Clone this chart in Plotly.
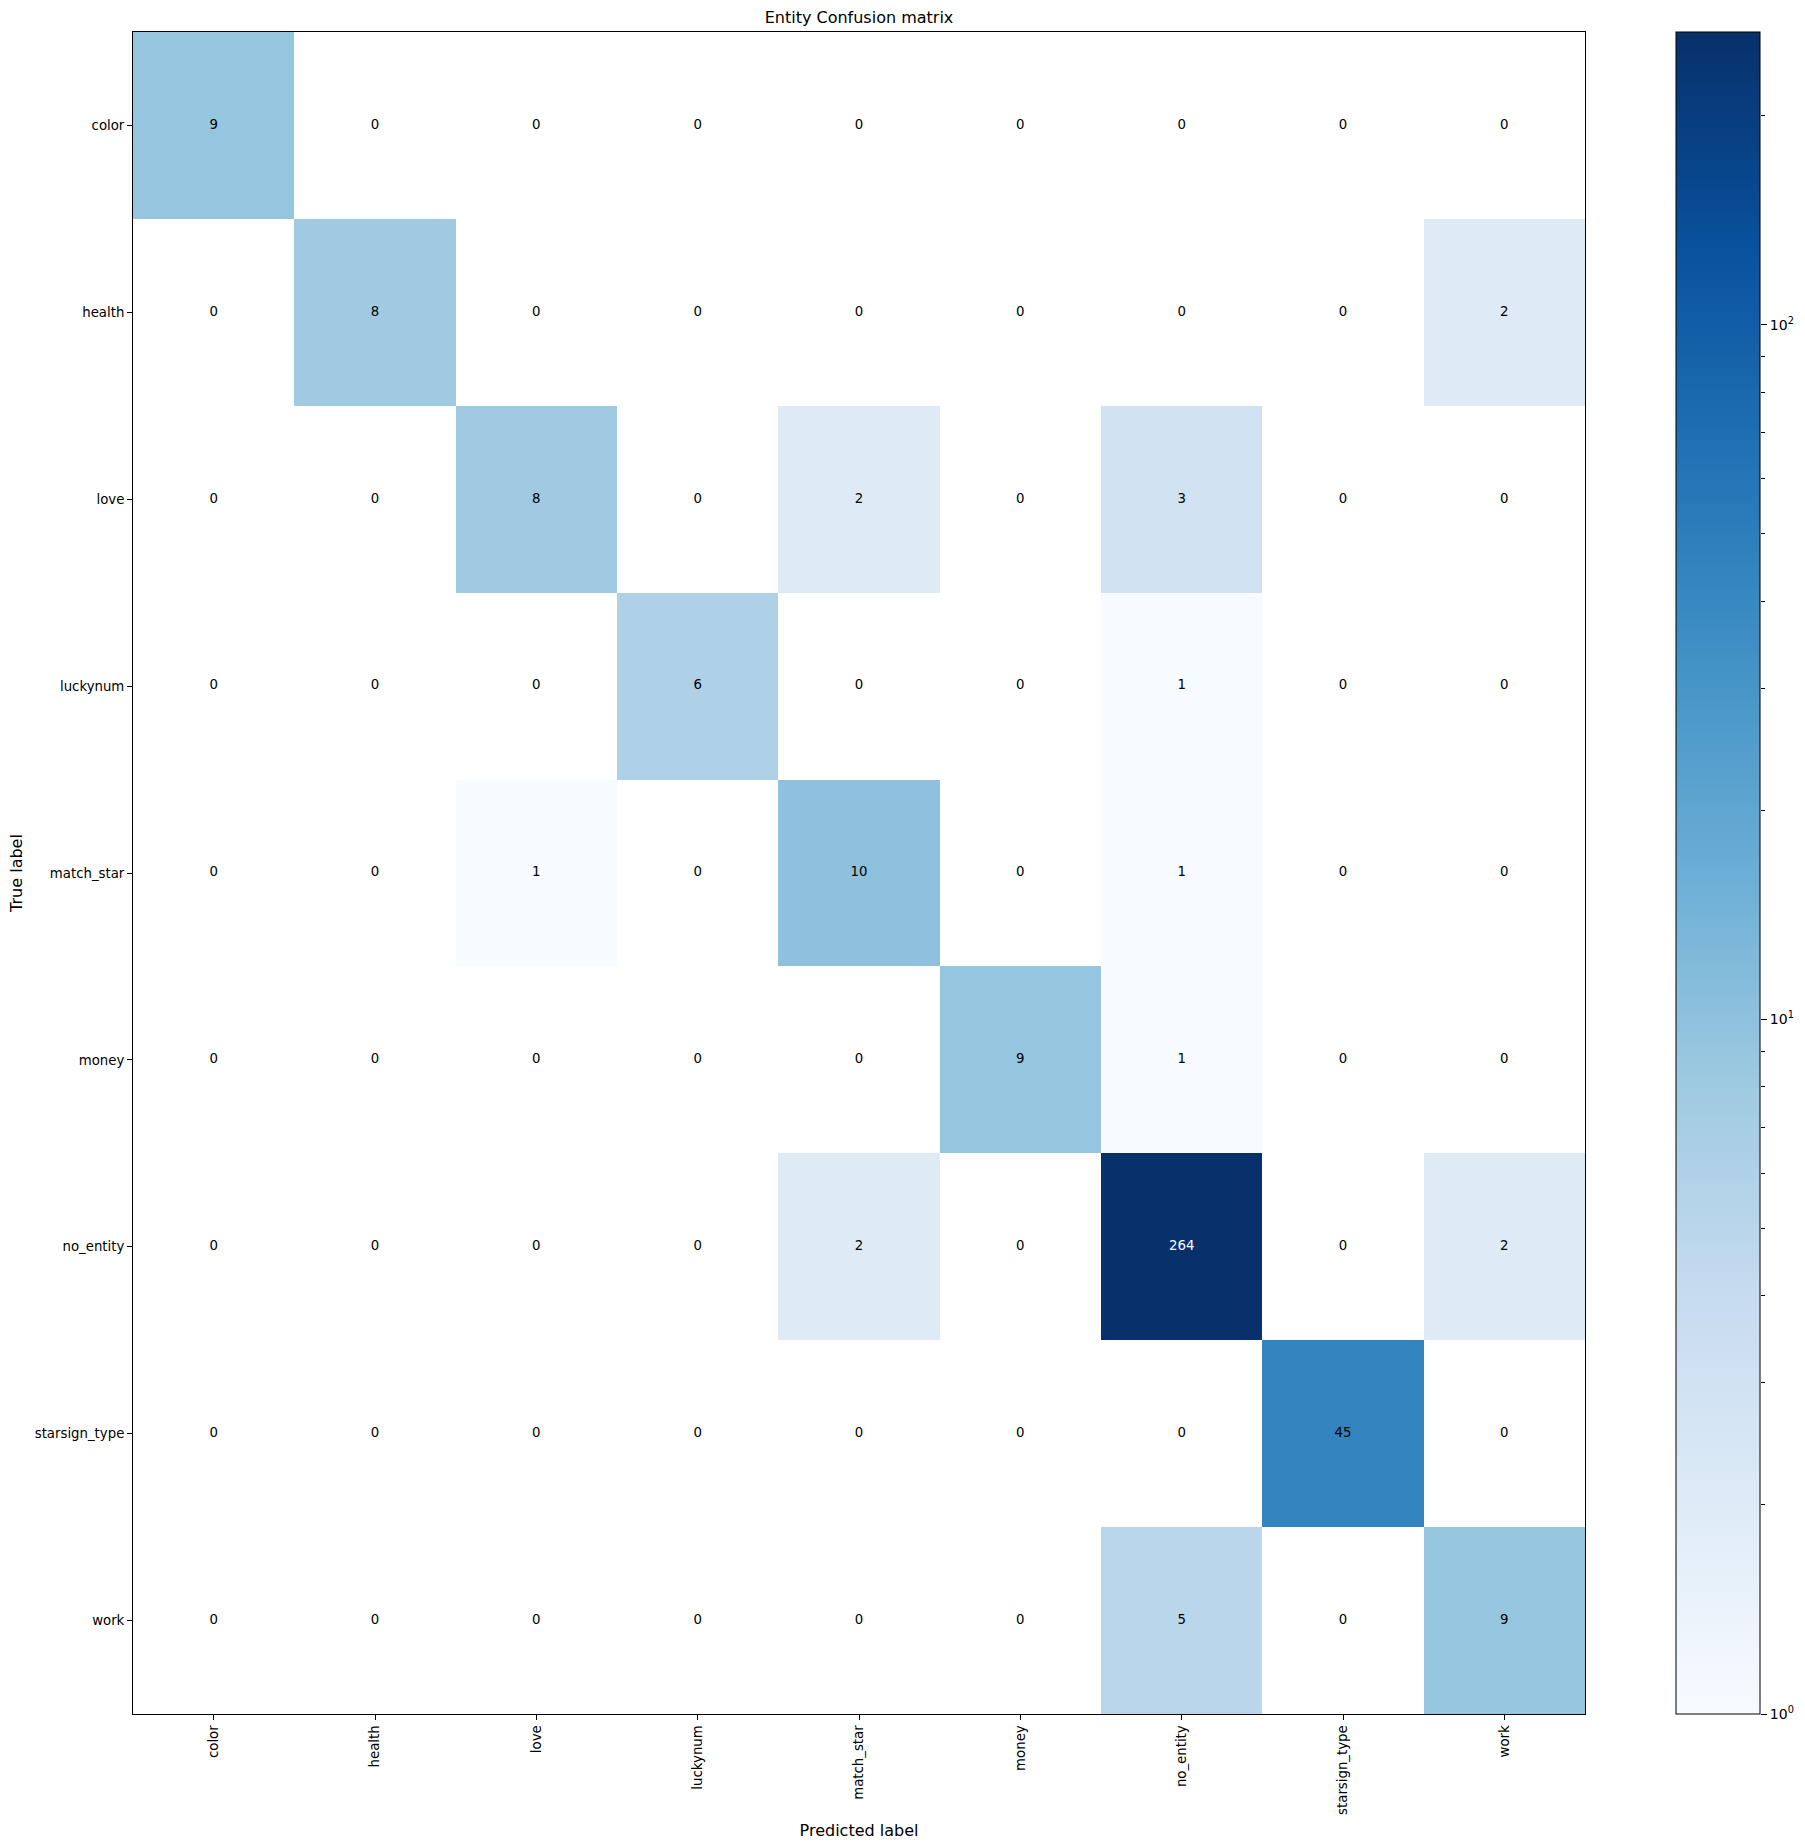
import numpy as np
import plotly.graph_objects as go

# labels and counts of the confusion matrix (rows = true, columns = predicted)
labels = ["color", "health", "love", "luckynum", "match_star", "money",
          "no_entity", "starsign_type", "work"]
counts = [
    [9, 0, 0, 0, 0, 0, 0, 0, 0],
    [0, 8, 0, 0, 0, 0, 0, 0, 2],
    [0, 0, 8, 0, 2, 0, 3, 0, 0],
    [0, 0, 0, 6, 0, 0, 1, 0, 0],
    [0, 0, 1, 0, 10, 0, 1, 0, 0],
    [0, 0, 0, 0, 0, 9, 1, 0, 0],
    [0, 0, 0, 0, 2, 0, 264, 0, 2],
    [0, 0, 0, 0, 0, 0, 0, 45, 0],
    [0, 0, 0, 0, 0, 0, 5, 0, 9],
]
cbar_major = [1, 10, 100]
cbar_minor = [2, 3, 4, 5, 6, 7, 8, 9, 20, 30, 40, 50, 60, 70, 80, 90, 200]

# matplotlib "Blues"
blues = ["#f7fbff", "#deebf7", "#c6dbef", "#9ecae1", "#6baed6",
         "#4292c6", "#2171b5", "#08519c", "#08306b"]
colorscale = [[i / (len(blues) - 1), c] for i, c in enumerate(blues)]

cm = np.array(counts, dtype=float)
vmax = cm.max()
# log norm, zeros are masked (left blank)
z = np.where(cm > 0, np.log10(np.where(cm > 0, cm, 1)), np.nan)
z = [[None if np.isnan(v) else v for v in row] for row in z]

FONT = "DejaVu Sans"
W, H = 1805, 1847
ML, MR, MT, MB = 133, 45, 32, 133
paper_w = W - ML - MR
x_dom_end = (1585 - ML) / paper_w
cbar_x = (1676 - ML) / paper_w

fig = go.Figure()
fig.add_trace(go.Heatmap(
    x=labels, y=labels, z=z,
    colorscale=colorscale, zmin=0, zmax=np.log10(vmax),
    hoverinfo="skip",
    colorbar=dict(
        x=cbar_x, xanchor="left", xpad=0, ypad=0,
        y=0.5, yanchor="middle", len=1, lenmode="fraction",
        thickness=84, outlinecolor="black", outlinewidth=1,
        showticklabels=False, ticks="",
    ),
))

# cell counts
tx, ty, tt, tc = [], [], [], []
for i, row in enumerate(counts):
    for j, v in enumerate(row):
        tx.append(labels[j])
        ty.append(labels[i])
        tt.append(str(v))
        tc.append("white" if v > vmax / 2 else "black")
fig.add_trace(go.Scatter(
    x=tx, y=ty, mode="text", text=tt,
    textfont=dict(family=FONT, size=13.3, color=tc),
    hoverinfo="skip", showlegend=False,
))

# empty trace so the colorbar tick axis is drawn
fig.add_trace(go.Scatter(x=[], y=[], yaxis="y2", showlegend=False, hoverinfo="skip"))

fig.update_layout(
    width=W, height=H,
    margin=dict(l=ML, r=MR, t=MT, b=MB),
    paper_bgcolor="white", plot_bgcolor="white",
    font=dict(family=FONT, size=13.3, color="black"),
    title=dict(
        text="Entity Confusion matrix", font=dict(size=16),
        x=x_dom_end / 2, xref="paper", xanchor="center",
        y=1, yref="paper", yanchor="bottom", pad=dict(b=9),
    ),
    xaxis=dict(
        domain=[0, x_dom_end], title=dict(text="Predicted label", standoff=10),
        tickangle=-90, ticks="outside", ticklen=5, tickcolor="black",
        showline=True, mirror=True, linecolor="black", linewidth=1,
        showgrid=False, zeroline=False,
    ),
    yaxis=dict(
        domain=[0, 1], autorange="reversed", title=dict(text="True label", standoff=8),
        ticks="outside", ticklen=5, tickcolor="black",
        showline=True, mirror=True, linecolor="black", linewidth=1,
        showgrid=False, zeroline=False,
    ),
    yaxis2=dict(
        overlaying="y", anchor="free", position=1.0, side="right",
        type="log", range=[0, np.log10(vmax)],
        tickvals=cbar_major, ticktext=["10<sup>0</sup>", "10<sup>1</sup>", "10<sup>2</sup>"],
        tickfont=dict(size=14),
        ticks="outside", ticklen=6, tickcolor="black",
        minor=dict(tickvals=cbar_minor, ticks="outside", ticklen=3.5, tickcolor="black", showgrid=False),
        showgrid=False, zeroline=False, showline=False,
    ),
)

fig.write_html("out.html", config={"displayModeBar": False},
               post_script="document.body.style.margin='0';")
